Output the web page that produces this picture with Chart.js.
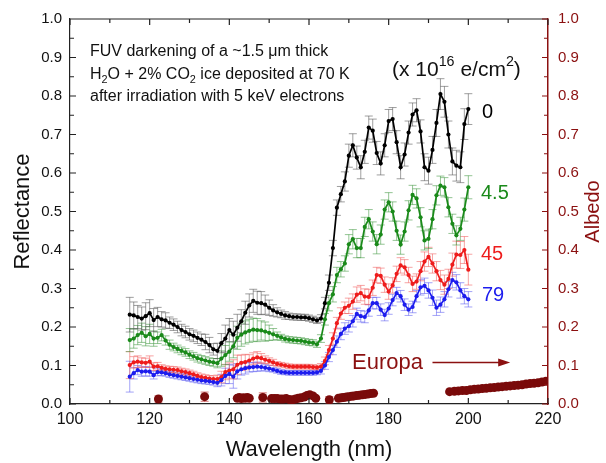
<!DOCTYPE html>
<html>
<head>
<meta charset="utf-8">
<script src="https://cdn.jsdelivr.net/npm/chart.js@4.4.0/dist/chart.umd.min.js"></script>
<style>
  html, body { margin: 0; padding: 0; background: #fff; }
  #wrap { width: 606px; height: 463px; }
</style>
</head>
<body>
<div id="wrap"><canvas id="chart" width="606" height="463"></canvas></div>
<script>
// wavelength grid (nm), shared by the four reflectance spectra
const wavelengths = [115,116,117,118,119,120,121,122,123,124,125,126,127,128,129,130,131,132,133,134,
  135,136,137,138,139,140,141,142,143,144,145,146,147,148,149,150,151,152,153,154,
  155,156,157,158,159,160,161,162,163,164,165,166,167,168,169,170,171,172,173,174,
  175,176,177,178,179,180,181,182,183,184,185,186,187,188,189,190,191,192,193,194,
  195,196,197,198,199,200];

// fluence 0
const refl0 = [0.232,0.230,0.226,0.222,0.228,0.236,0.218,0.226,0.220,0.217,0.211,0.206,0.200,0.192,0.187,0.181,0.177,0.172,0.167,0.161,
  0.153,0.142,0.138,0.158,0.170,0.192,0.180,0.198,0.215,0.237,0.256,0.268,0.263,0.262,0.258,0.250,0.243,0.238,0.234,0.230,
  0.228,0.226,0.226,0.225,0.225,0.223,0.220,0.217,0.222,0.262,0.315,0.405,0.510,0.545,0.578,0.645,0.672,0.640,0.615,0.655,
  0.718,0.710,0.652,0.625,0.672,0.735,0.740,0.680,0.615,0.648,0.705,0.752,0.763,0.708,0.615,0.606,0.660,0.730,0.805,0.785,
  0.700,0.630,0.619,0.615,0.727,0.766];
const err0 = [0.045,0.035,0.030,0.030,0.035,0.035,0.030,0.025,0.020,0.020,0.015,0.015,0.015,0.015,0.015,0.015,0.015,0.015,0.015,0.020,
  0.020,0.015,0.020,0.025,0.035,0.030,0.035,0.035,0.030,0.030,0.030,0.030,0.030,0.030,0.025,0.020,0.015,0.012,0.010,0.010,
  0.008,0.008,0.008,0.008,0.008,0.008,0.008,0.008,0.010,0.015,0.020,0.020,0.020,0.020,0.025,0.030,0.030,0.030,0.030,0.030,
  0.030,0.030,0.030,0.030,0.030,0.030,0.030,0.030,0.030,0.030,0.030,0.030,0.030,0.030,0.035,0.035,0.035,0.035,0.040,0.040,
  0.035,0.035,0.040,0.040,0.040,0.040];

// fluence 4.5
const refl45a = [0.166,0.170,0.179,0.185,0.176,0.182,0.170,0.172,0.179,0.165,0.154,0.148,0.143,0.138,0.134,0.128,0.124,0.119,0.116,0.113,
  0.110,0.108,0.106,0.118,0.127,0.136,0.150,0.172,0.180,0.186,0.190,0.193,0.192,0.191,0.188,0.185,0.181,0.177,0.173,0.169,
  0.167,0.166,0.165,0.164,0.162,0.160,0.159,0.155,0.170,0.220,0.262,0.285,0.335,0.350,0.365,0.415,0.428,0.405,0.405,0.460,
  0.480,0.448,0.415,0.440,0.505,0.524,0.500,0.450,0.414,0.448,0.503,0.543,0.534,0.485,0.425,0.429,0.480,0.542,0.567,0.563,
  0.511,0.468,0.438,0.455,0.505,0.563];
const err45a = [0.030,0.025,0.025,0.025,0.025,0.025,0.020,0.015,0.015,0.012,0.012,0.010,0.010,0.010,0.010,0.010,0.010,0.010,0.010,0.010,
  0.010,0.010,0.012,0.020,0.025,0.025,0.030,0.030,0.030,0.030,0.030,0.030,0.030,0.025,0.025,0.020,0.015,0.010,0.008,0.008,
  0.008,0.008,0.008,0.008,0.008,0.008,0.008,0.008,0.010,0.015,0.020,0.020,0.020,0.020,0.020,0.025,0.025,0.025,0.025,0.025,
  0.025,0.025,0.025,0.025,0.025,0.025,0.025,0.025,0.025,0.025,0.025,0.025,0.025,0.025,0.025,0.025,0.025,0.025,0.025,0.025,
  0.025,0.025,0.025,0.030,0.030,0.030];

// fluence 45
const refl45 = [0.101,0.108,0.110,0.108,0.107,0.110,0.097,0.098,0.094,0.091,0.090,0.089,0.088,0.085,0.083,0.080,0.077,0.073,0.070,0.068,
  0.066,0.065,0.065,0.070,0.083,0.087,0.090,0.102,0.107,0.109,0.113,0.118,0.121,0.119,0.115,0.112,0.108,0.104,0.102,0.100,
  0.098,0.097,0.097,0.097,0.097,0.097,0.096,0.095,0.097,0.112,0.140,0.170,0.210,0.235,0.250,0.255,0.266,0.284,0.288,0.279,
  0.278,0.302,0.335,0.333,0.310,0.292,0.308,0.338,0.360,0.355,0.335,0.312,0.318,0.345,0.370,0.382,0.365,0.345,0.322,0.310,
  0.325,0.362,0.388,0.387,0.400,0.349];
const err45 = [0.035,0.015,0.015,0.012,0.012,0.015,0.010,0.010,0.008,0.008,0.008,0.008,0.008,0.008,0.008,0.008,0.008,0.008,0.008,0.008,
  0.008,0.008,0.010,0.015,0.020,0.020,0.025,0.025,0.020,0.020,0.015,0.015,0.015,0.012,0.010,0.008,0.008,0.006,0.006,0.006,
  0.006,0.006,0.006,0.006,0.006,0.006,0.006,0.006,0.008,0.010,0.012,0.015,0.015,0.015,0.015,0.020,0.020,0.020,0.020,0.020,
  0.020,0.020,0.020,0.020,0.020,0.020,0.020,0.020,0.020,0.020,0.020,0.020,0.020,0.025,0.025,0.025,0.025,0.025,0.025,0.025,
  0.025,0.030,0.035,0.035,0.035,0.040];

// fluence 79
const refl79 = [0.071,0.080,0.088,0.084,0.085,0.084,0.075,0.083,0.082,0.080,0.077,0.075,0.073,0.071,0.069,0.067,0.065,0.063,0.061,0.060,
  0.059,0.057,0.055,0.062,0.073,0.078,0.071,0.085,0.090,0.093,0.095,0.096,0.097,0.096,0.094,0.092,0.089,0.086,0.083,0.082,
  0.081,0.081,0.081,0.081,0.081,0.081,0.081,0.082,0.086,0.100,0.122,0.140,0.162,0.182,0.196,0.202,0.215,0.234,0.228,0.226,
  0.243,0.262,0.262,0.245,0.231,0.248,0.270,0.288,0.280,0.258,0.245,0.252,0.280,0.303,0.307,0.295,0.276,0.250,0.258,0.272,
  0.298,0.322,0.316,0.295,0.280,0.272];
const err79 = [0.040,0.015,0.012,0.012,0.012,0.012,0.010,0.010,0.008,0.008,0.008,0.008,0.008,0.008,0.008,0.008,0.008,0.008,0.008,0.008,
  0.008,0.008,0.010,0.015,0.020,0.025,0.030,0.020,0.015,0.015,0.012,0.012,0.012,0.010,0.008,0.008,0.006,0.006,0.006,0.006,
  0.006,0.006,0.006,0.006,0.006,0.006,0.006,0.006,0.008,0.010,0.012,0.012,0.015,0.015,0.015,0.015,0.015,0.015,0.015,0.015,
  0.015,0.015,0.015,0.015,0.015,0.015,0.015,0.015,0.015,0.015,0.015,0.015,0.015,0.020,0.020,0.020,0.020,0.020,0.020,0.020,
  0.020,0.020,0.020,0.020,0.020,0.020];

// Europa albedo (right axis)
const europaWl = [122.2,133.8,142.0,142.5,143.0,143.5,144.0,144.5,145.0,148.4,
  150.6,151.3,152.0,152.8,153.5,154.3,155.0,155.8,156.6,157.3,158.0,158.8,159.5,160.2,161.0,161.7,
  165.1,167.4,168.1,168.7,169.4,170.0,170.7,171.3,172.0,172.7,173.4,174.1,174.8,175.5,176.2,
  195.3,196.5,197.5,198.5,199.5,200.5,201.5,202.5,203.5,204.5,205.5,206.5,207.5,208.5,209.5,
  210.5,211.5,212.5,213.5,214.5,215.5,216.5,217.5,218.5,219.5];
const europaAlb = [0.013,0.019,0.015,0.017,0.014,0.016,0.015,0.017,0.015,0.017,
  0.014,0.014,0.014,0.013,0.013,0.014,0.012,0.011,0.013,0.015,0.016,0.018,0.022,0.024,0.021,0.015,
  0.011,0.015,0.016,0.017,0.018,0.019,0.020,0.021,0.022,0.023,0.024,0.025,0.026,0.027,0.028,
  0.032,0.033,0.034,0.035,0.035,0.037,0.038,0.039,0.040,0.041,0.042,0.043,0.044,0.045,0.046,
  0.047,0.048,0.049,0.050,0.052,0.053,0.054,0.055,0.057,0.059];
const europaErr = [0.008,0.012,0,0,0,0,0,0,0,0.012,
  0,0,0,0,0,0,0,0,0,0,0,0,0,0,0,0,
  0.008,0,0,0,0,0,0,0,0,0,0,0,0,0,0,
  0,0,0,0,0,0,0,0,0,0,0,0,0,0,0,
  0,0,0,0,0,0,0,0,0,0];

// axis ticks
const xTicks = [100,120,140,160,180,200,220];
const xMinorTicks = [110,130,150,170,190,210];
const yTicks = [0,0.1,0.2,0.3,0.4,0.5,0.6,0.7,0.8,0.9,1.0];
const yMinorTicks = [0.05,0.15,0.25,0.35,0.45,0.55,0.65,0.75,0.85,0.95];

const ALB = '#8b1010';
const FONT = '"Liberation Sans", Arial, sans-serif';

function pts(xs, ys) {
  return xs.map((x, i) => ({ x: x, y: ys[i] }));
}

function spectrum(ys, errs, color, errColor) {
  return {
    data: pts(wavelengths, ys),
    errs: errs,
    errColor: errColor,
    showLine: true,
    borderColor: color,
    backgroundColor: color,
    borderWidth: 1.7,
    pointRadius: 2.1,
    pointBorderWidth: 0,
    yAxisID: 'y'
  };
}

// vertical error bars with caps, drawn behind the lines
const errorBars = {
  id: 'errorBars',
  beforeDatasetsDraw(chart) {
    const ctx = chart.ctx;
    ctx.save();
    ctx.lineWidth = 1;
    chart.data.datasets.forEach((ds, di) => {
      if (!ds.errs) return;
      const meta = chart.getDatasetMeta(di);
      const ys = chart.scales[ds.yAxisID];
      ctx.strokeStyle = ds.errColor;
      meta.data.forEach((p, i) => {
        const e = ds.errs[i];
        if (!e) return;
        const v = ds.data[i].y;
        const top = ys.getPixelForValue(v + e);
        const bot = ys.getPixelForValue(v - e);
        ctx.beginPath();
        ctx.moveTo(p.x, top); ctx.lineTo(p.x, bot);
        ctx.moveTo(p.x - 4, top); ctx.lineTo(p.x + 4, top);
        ctx.moveTo(p.x - 4, bot); ctx.lineTo(p.x + 4, bot);
        ctx.stroke();
      });
    });
    ctx.restore();
  }
};

function richText(ctx, parts, x, y, size) {
  let cx = x;
  parts.forEach(p => {
    const s = p[1] ? size * 0.68 : size;
    const dy = p[1] === 'sub' ? size * 0.3 : (p[1] === 'sup' ? -size * 0.38 : 0);
    ctx.font = s + 'px ' + FONT;
    ctx.fillText(p[0], cx, y + dy);
    cx += ctx.measureText(p[0]).width;
  });
}

// inward ticks, frame top, annotations
const decorations = {
  id: 'decorations',
  afterDraw(chart) {
    const { ctx, chartArea: a, scales: { x, y, y2 } } = chart;
    ctx.save();
    ctx.lineWidth = 1.2;
    ctx.strokeStyle = '#222';
    ctx.beginPath();
    ctx.moveTo(a.left, a.top); ctx.lineTo(a.right, a.top);
    xTicks.forEach(v => {
      const px = x.getPixelForValue(v);
      ctx.moveTo(px, a.bottom); ctx.lineTo(px, a.bottom - 6);
      ctx.moveTo(px, a.top); ctx.lineTo(px, a.top + 6);
    });
    xMinorTicks.forEach(v => {
      const px = x.getPixelForValue(v);
      ctx.moveTo(px, a.bottom); ctx.lineTo(px, a.bottom - 4);
      ctx.moveTo(px, a.top); ctx.lineTo(px, a.top + 4);
    });
    yTicks.forEach(v => {
      const py = y.getPixelForValue(v);
      ctx.moveTo(a.left, py); ctx.lineTo(a.left + 6, py);
    });
    yMinorTicks.forEach(v => {
      const py = y.getPixelForValue(v);
      ctx.moveTo(a.left, py); ctx.lineTo(a.left + 4, py);
    });
    ctx.stroke();

    ctx.strokeStyle = ALB;
    ctx.beginPath();
    yTicks.forEach(v => {
      const py = y2.getPixelForValue(v);
      ctx.moveTo(a.right, py); ctx.lineTo(a.right - 6, py);
    });
    yMinorTicks.forEach(v => {
      const py = y2.getPixelForValue(v);
      ctx.moveTo(a.right, py); ctx.lineTo(a.right - 4, py);
    });
    ctx.stroke();

    // right axis title, reading bottom to top
    ctx.fillStyle = ALB;
    ctx.font = '20px ' + FONT;
    ctx.textAlign = 'center';
    ctx.textBaseline = 'middle';
    ctx.translate(593, (a.top + a.bottom) / 2);
    ctx.rotate(-Math.PI / 2);
    ctx.fillText('Albedo', 0, 0);
    ctx.setTransform(1, 0, 0, 1, 0, 0);

    // description
    ctx.textAlign = 'left';
    ctx.fillStyle = '#111';
    richText(ctx, [['FUV darkening of a ~1.5 \u03bcm thick']], 90, 52, 16);
    richText(ctx, [['H'], ['2', 'sub'], ['O + 2% CO'], ['2', 'sub'], [' ice deposited at 70 K']], 90, 75, 16);
    richText(ctx, [['after irradiation with 5 keV electrons']], 90, 97, 16);
    richText(ctx, [['(x 10'], ['16', 'sup'], [' e/cm'], ['2', 'sup'], [')']], 392, 70, 21);

    // fluence labels
    ctx.font = '20px ' + FONT;
    ctx.fillStyle = '#000'; ctx.fillText('0', 482, 112);
    ctx.fillStyle = '#1a8a1a'; ctx.fillText('4.5', 481, 193);
    ctx.fillStyle = '#ee1c1c'; ctx.fillText('45', 481, 254);
    ctx.fillStyle = '#1c1cee'; ctx.fillText('79', 482, 295);

    // Europa label and arrow
    ctx.fillStyle = ALB;
    ctx.font = '22px ' + FONT;
    ctx.fillText('Europa', 352, 363);
    const ay = y2.getPixelForValue(0.108);
    const ax0 = x.getPixelForValue(191);
    const ax1 = x.getPixelForValue(210.5);
    ctx.strokeStyle = ALB;
    ctx.lineWidth = 1.5;
    ctx.beginPath();
    ctx.moveTo(ax0, ay); ctx.lineTo(ax1 - 6, ay);
    ctx.stroke();
    ctx.beginPath();
    ctx.moveTo(ax1, ay); ctx.lineTo(ax1 - 12, ay - 4); ctx.lineTo(ax1 - 12, ay + 4);
    ctx.closePath();
    ctx.fill();
    ctx.restore();
  }
};

const chart = new Chart(document.getElementById('chart').getContext('2d'), {
  type: 'scatter',
  data: {
    datasets: [
      spectrum(refl79, err79, '#1c1cee', 'rgba(90,90,240,0.55)'),
      spectrum(refl45, err45, '#ee1c1c', 'rgba(240,90,90,0.55)'),
      spectrum(refl45a, err45a, '#1a8a1a', 'rgba(60,150,60,0.55)'),
      spectrum(refl0, err0, '#000000', 'rgba(80,80,80,0.55)'),
      {
        data: pts(europaWl, europaAlb),
        errs: europaErr,
        errColor: 'rgba(200,60,60,0.7)',
        showLine: false,
        backgroundColor: '#7a0a0a',
        borderColor: '#7a0a0a',
        pointRadius: 4.5,
        pointBorderWidth: 0,
        yAxisID: 'y2'
      }
    ]
  },
  options: {
    responsive: false,
    animation: false,
    layout: { padding: { top: 18, left: 0, right: 0, bottom: 0 } },
    plugins: { legend: { display: false }, tooltip: { enabled: false } },
    scales: {
      x: {
        type: 'linear', min: 100, max: 220,
        ticks: { stepSize: 20, padding: 6, color: '#111', font: { family: FONT, size: 16 } },
        grid: { drawOnChartArea: false, drawTicks: false },
        border: { color: '#222', width: 1.2 },
        title: { display: true, text: 'Wavelength (nm)', color: '#111', font: { family: FONT, size: 22 }, padding: { top: 2, bottom: 0 } },
        afterFit: s => { s.height = 59; }
      },
      y: {
        position: 'left', min: 0, max: 1,
        ticks: { stepSize: 0.1, padding: 8, color: '#111', font: { family: FONT, size: 15 }, callback: v => v.toFixed(1) },
        grid: { drawOnChartArea: false, drawTicks: false },
        border: { color: '#222', width: 1.2 },
        title: { display: true, text: 'Reflectance', color: '#111', font: { family: FONT, size: 22 }, padding: { top: 10, bottom: 0 } },
        afterFit: s => { s.width = 70; }
      },
      y2: {
        position: 'right', min: 0, max: 1,
        ticks: { stepSize: 0.1, padding: 10, color: ALB, font: { family: FONT, size: 15 }, callback: v => v.toFixed(1) },
        grid: { drawOnChartArea: false, drawTicks: false },
        border: { color: ALB, width: 1.5 },
        afterFit: s => { s.width = 58; }
      }
    }
  },
  plugins: [errorBars, decorations]
});
</script>
</body>
</html>
